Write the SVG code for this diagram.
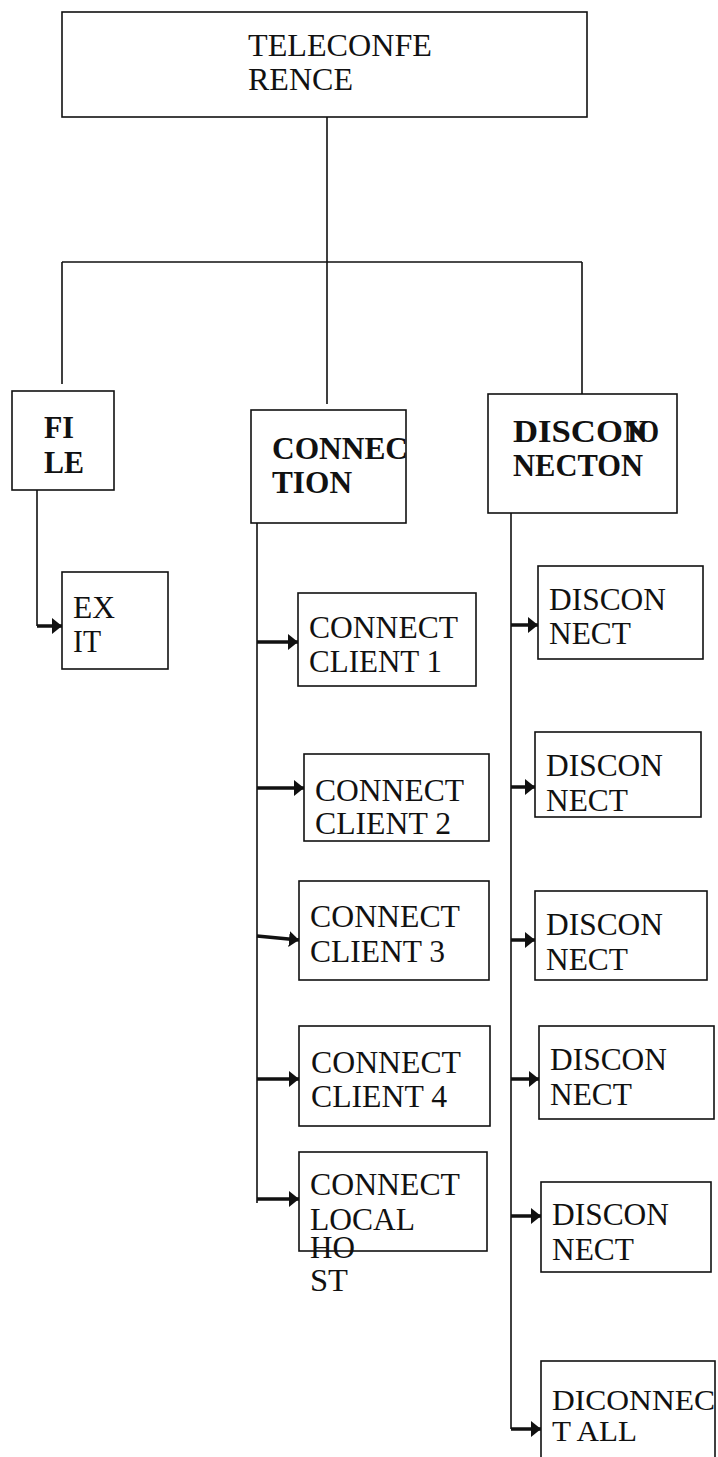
<svg xmlns="http://www.w3.org/2000/svg" width="718" height="1457" viewBox="0 0 718 1457">
<style>
.box{fill:#fff;stroke:#111;stroke-width:1.6}
.ln{fill:none;stroke:#111;stroke-width:1.6}
.ar{fill:none;stroke:#111;stroke-width:3.5}
.t{font-family:"Liberation Serif","Times New Roman",serif;font-size:31px;fill:#111}
.b{font-family:"Liberation Serif","Times New Roman",serif;font-size:31px;font-weight:bold;fill:#111}
.s{font-size:29px}
</style>
<defs>
<marker id="ah" markerUnits="userSpaceOnUse" markerWidth="11" markerHeight="18" refX="10" refY="9" orient="auto">
<path d="M0,1 L10,9 L0,17 Z" fill="#111"/>
</marker>
</defs>
<rect width="718" height="1457" fill="#fff"/>
<g id="connectors">
<path class="ln" d="M327,117 V262 M62,262 H582 M62,262 V384 M327,262 V404 M582,262 V394"/>
<path class="ln" d="M37,490 V626"/>
<path class="ln" d="M257,523 V1203"/>
<path class="ln" d="M511,513 V1429"/>
<line class="ar" x1="37" y1="626" x2="62" y2="626" marker-end="url(#ah)"/>
<line class="ar" x1="257" y1="642" x2="298" y2="642" marker-end="url(#ah)"/>
<line class="ar" x1="257" y1="788" x2="304" y2="788" marker-end="url(#ah)"/>
<line class="ar" x1="257" y1="936" x2="299" y2="940" marker-end="url(#ah)"/>
<line class="ar" x1="257" y1="1079" x2="299" y2="1079" marker-end="url(#ah)"/>
<line class="ar" x1="257" y1="1199" x2="299" y2="1199" marker-end="url(#ah)"/>
<line class="ar" x1="511" y1="625" x2="538" y2="625" marker-end="url(#ah)"/>
<line class="ar" x1="511" y1="787" x2="535" y2="787" marker-end="url(#ah)"/>
<line class="ar" x1="511" y1="940" x2="535" y2="940" marker-end="url(#ah)"/>
<line class="ar" x1="511" y1="1079" x2="539" y2="1079" marker-end="url(#ah)"/>
<line class="ar" x1="511" y1="1216" x2="541" y2="1216" marker-end="url(#ah)"/>
<line class="ar" x1="511" y1="1429" x2="541" y2="1429" marker-end="url(#ah)"/>
</g>
<g id="teleconference">
<rect class="box" x="62" y="12" width="525" height="105"/>
<text class="t" x="248" y="56" textLength="184" lengthAdjust="spacingAndGlyphs">TELECONFE</text>
<text class="t" x="248" y="90" textLength="105" lengthAdjust="spacingAndGlyphs">RENCE</text>
</g>
<g id="file">
<rect class="box" x="12" y="391" width="102" height="99"/>
<text class="b" x="44" y="438" textLength="30" lengthAdjust="spacingAndGlyphs">FI</text>
<text class="b" x="44" y="473" textLength="40" lengthAdjust="spacingAndGlyphs">LE</text>
</g>
<g id="connection">
<rect class="box" x="251" y="410" width="155" height="113"/>
<text class="b" x="272" y="459" textLength="136" lengthAdjust="spacingAndGlyphs">CONNEC</text>
<text class="b" x="272" y="493" textLength="80" lengthAdjust="spacingAndGlyphs">TION</text>
</g>
<g id="disconnection">
<rect class="box" x="488" y="394" width="189" height="119"/>
<text class="b" y="442"><tspan x="513" textLength="135" lengthAdjust="spacingAndGlyphs">DISCON</tspan><tspan x="627" textLength="32" lengthAdjust="spacingAndGlyphs">IO</tspan></text>
<text class="b" x="513" y="476" textLength="130" lengthAdjust="spacingAndGlyphs">NECTON</text>
</g>
<g id="exit">
<rect class="box" x="62" y="572" width="106" height="97"/>
<text class="t" x="73" y="618" textLength="42" lengthAdjust="spacingAndGlyphs">EX</text>
<text class="t" x="73" y="652" textLength="28" lengthAdjust="spacingAndGlyphs">IT</text>
</g>
<g id="client1">
<rect class="box" x="298" y="593" width="178" height="93"/>
<text class="t" x="309" y="638" textLength="149" lengthAdjust="spacingAndGlyphs">CONNECT</text>
<text class="t" x="309" y="672" textLength="133" lengthAdjust="spacingAndGlyphs">CLIENT 1</text>
</g>
<g id="client2">
<rect class="box" x="304" y="754" width="185" height="87"/>
<text class="t" x="315" y="801" textLength="149" lengthAdjust="spacingAndGlyphs">CONNECT</text>
<text class="t" x="315" y="834" textLength="136" lengthAdjust="spacingAndGlyphs">CLIENT 2</text>
</g>
<g id="client3">
<rect class="box" x="299" y="881" width="190" height="99"/>
<text class="t" x="310" y="927" textLength="150" lengthAdjust="spacingAndGlyphs">CONNECT</text>
<text class="t" x="310" y="962" textLength="135" lengthAdjust="spacingAndGlyphs">CLIENT 3</text>
</g>
<g id="client4">
<rect class="box" x="299" y="1026" width="191" height="100"/>
<text class="t" x="311" y="1073" textLength="150" lengthAdjust="spacingAndGlyphs">CONNECT</text>
<text class="t" x="311" y="1107" textLength="136" lengthAdjust="spacingAndGlyphs">CLIENT 4</text>
</g>
<g id="localhost">
<rect class="box" x="299" y="1152" width="188" height="99"/>
<text class="t" x="310" y="1195" textLength="150" lengthAdjust="spacingAndGlyphs">CONNECT</text>
<text class="t"><tspan x="310" y="1230" textLength="105" lengthAdjust="spacingAndGlyphs">LOCAL</tspan><tspan x="310" y="1258" textLength="45" lengthAdjust="spacingAndGlyphs">HO</tspan></text>
<text class="t" x="310" y="1291" textLength="38" lengthAdjust="spacingAndGlyphs">ST</text>
</g>
<g id="disconnect1">
<rect class="box" x="538" y="566" width="165" height="93"/>
<text class="t" x="549" y="610" textLength="117" lengthAdjust="spacingAndGlyphs">DISCON</text>
<text class="t" x="549" y="644" textLength="82" lengthAdjust="spacingAndGlyphs">NECT</text>
</g>
<g id="disconnect2">
<rect class="box" x="535" y="732" width="166" height="85"/>
<text class="t" x="546" y="776" textLength="117" lengthAdjust="spacingAndGlyphs">DISCON</text>
<text class="t" x="546" y="811" textLength="82" lengthAdjust="spacingAndGlyphs">NECT</text>
</g>
<g id="disconnect3">
<rect class="box" x="535" y="891" width="172" height="89"/>
<text class="t" x="546" y="935" textLength="117" lengthAdjust="spacingAndGlyphs">DISCON</text>
<text class="t" x="546" y="970" textLength="82" lengthAdjust="spacingAndGlyphs">NECT</text>
</g>
<g id="disconnect4">
<rect class="box" x="539" y="1026" width="175" height="93"/>
<text class="t" x="550" y="1070" textLength="117" lengthAdjust="spacingAndGlyphs">DISCON</text>
<text class="t" x="550" y="1105" textLength="82" lengthAdjust="spacingAndGlyphs">NECT</text>
</g>
<g id="disconnect5">
<rect class="box" x="541" y="1182" width="170" height="90"/>
<text class="t" x="552" y="1225" textLength="117" lengthAdjust="spacingAndGlyphs">DISCON</text>
<text class="t" x="552" y="1260" textLength="82" lengthAdjust="spacingAndGlyphs">NECT</text>
</g>
<g id="disconnectall">
<rect class="box" x="541" y="1361" width="174" height="110"/>
<text class="t s" x="552" y="1410" textLength="163" lengthAdjust="spacingAndGlyphs">DICONNEC</text>
<text class="t s" x="552" y="1441" textLength="85" lengthAdjust="spacingAndGlyphs">T ALL</text>
</g>
</svg>
